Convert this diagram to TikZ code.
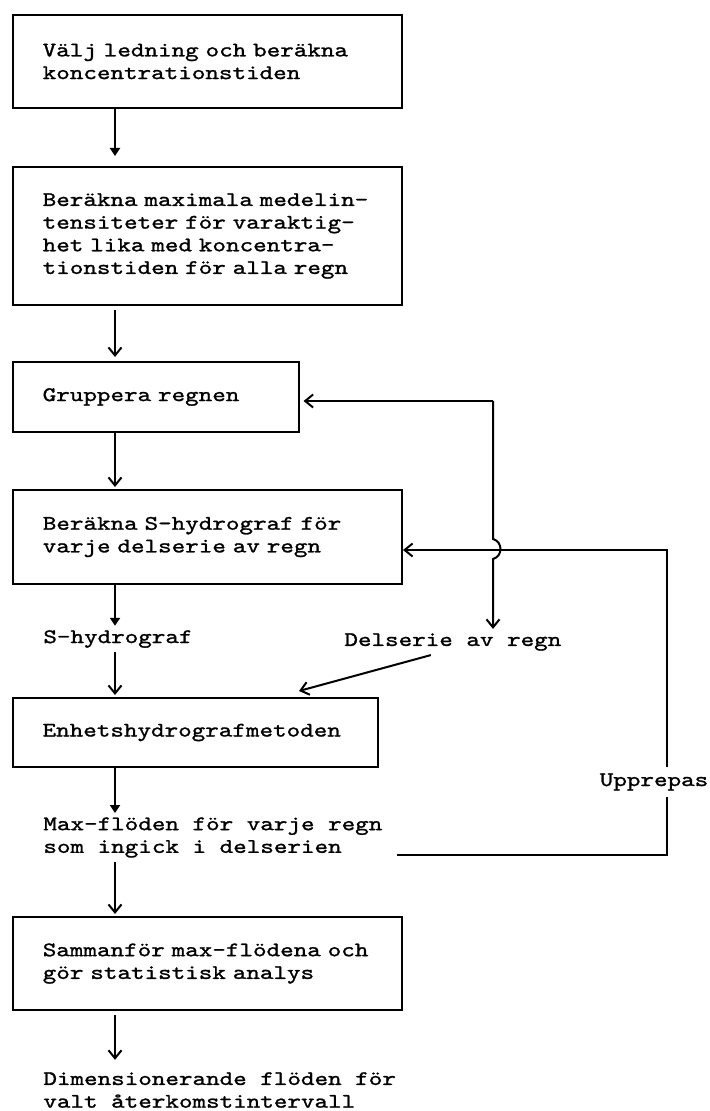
\documentclass[tikz,border=0pt]{standalone}
\usepackage{fontspec}
% typewriter face, widened to the pitch of the original typescript
\newfontfamily\tw{lmmono10-regular.otf}[FakeStretch=1.25,FakeBold=1.2]
\usetikzlibrary{arrows.meta,calc}
\begin{document}
\begin{tikzpicture}[x=0.5pt,y=-0.5pt,
  txt/.style={font=\tw\fontsize{10.33}{11.33}\selectfont},
  flowbox/.style={txt,draw,line width=1pt,align=left,inner xsep=15pt,inner ysep=0pt},
  lbl/.style={txt,align=left,inner sep=2pt},
  conn/.style={line width=1pt},
  arrV/.style={conn,-{Straight Barb[length=4pt,width=6.5pt]}},
  arrF/.style={conn,-{Triangle[length=4pt,width=5pt]}}]
\fill[white] (0,0) rectangle (709,1111);
\useasboundingbox (0,0) rectangle (709,1111);

% main column of steps
\node[flowbox,minimum width=194.4pt,minimum height=46.5pt,text width=164.4pt] (b1) at (207.1,61.5)
  {\mbox{Välj ledning och beräkna}\\\mbox{koncentrationstiden}};
\node[flowbox,minimum width=194.4pt,minimum height=69pt,text width=164.4pt] (b2) at (207.1,236)
  {\mbox{Beräkna maximala medelin-}\\\mbox{tensiteter för varaktig-}\\\mbox{het lika med koncentra-}\\\mbox{tionstiden för alla regn}};
\node[flowbox,minimum width=142.9pt,minimum height=35pt,text width=112.9pt] (b3) at (155.6,397)
  {\mbox{Gruppera regnen}};
\node[flowbox,minimum width=194.6pt,minimum height=47pt,text width=164.6pt] (b4) at (207.4,537)
  {\mbox{Beräkna S-hydrograf för}\\\mbox{varje delserie av regn}};
\node[flowbox,minimum width=182.7pt,minimum height=34.5pt,text width=152.7pt] (b5) at (195.3,732.5)
  {\mbox{Enhetshydrografmetoden}};
\node[flowbox,minimum width=194.6pt,minimum height=46.5pt,text width=164.6pt] (b6) at (207.4,963.5)
  {\mbox{Sammanför max-flödena och}\\\mbox{gör statistisk analys}};

% free-standing labels
\node[lbl,anchor=west] (ls) at (39,639) {S-hydrograf};
\node[lbl,anchor=west] (ld) at (340,642) {Delserie av regn};
\node[lbl,anchor=west] (lm) at (39,837.5) {Max-flöden för varje regn\\som ingick i delserien};
\node[lbl,anchor=west] (lr) at (39,1090) {Dimensionerande flöden för\\valt återkomstintervall};

% helper points
\coordinate (col) at (115,0);
\coordinate (j1) at (493,401);
\coordinate (ja) at (493,539);
\coordinate (jb) at (493,559);
\coordinate (r0) at (397,855);
\coordinate (r1) at (667,855);
\coordinate (r2) at (667,550);

% downward flow
\draw[arrF,shorten >=5pt] (b1.south -| col) -- (b2.north -| col);
\draw[arrV,shorten <=2pt,shorten >=2pt] (b2.south -| col) -- (b3.north -| col);
\draw[arrV,shorten >=1pt] (b3.south -| col) -- (b4.north -| col);
\draw[arrF] (b4.south -| col) -- (ls.north -| col);
\draw[arrV,shorten >=1pt] (ls.south -| col) -- (b5.north -| col);
\draw[arrF] (b5.south -| col) -- (lm.north -| col);
\draw[arrV,shorten >=1pt] (lm.south -| col) -- (b6.north -| col);
\draw[arrV,shorten <=2pt,shorten >=4pt] (b6.south -| col) -- (lr.north -| col);

% regrouping branch, hopping over the repeat line
\draw[arrV,shorten >=2pt] (j1) -- (j1 -| b3.east);
\draw[arrV] (j1) -- (ja) .. controls +(10,3) and +(10,-3) .. (jb) -- (ld.north -| j1);
\draw[arrV] ($(ld.south)+(-22,0)$) -- ($(b5.north east)+(-80,-6)$);

% repeat loop
\draw[arrV] (r0) -- (r1) -- (r2) -- (r2 -| b4.east);
\node[lbl,fill=white,inner xsep=1pt,inner ysep=3pt] (lu) at (654,782) {Upprepas};
\end{tikzpicture}
\end{document}
